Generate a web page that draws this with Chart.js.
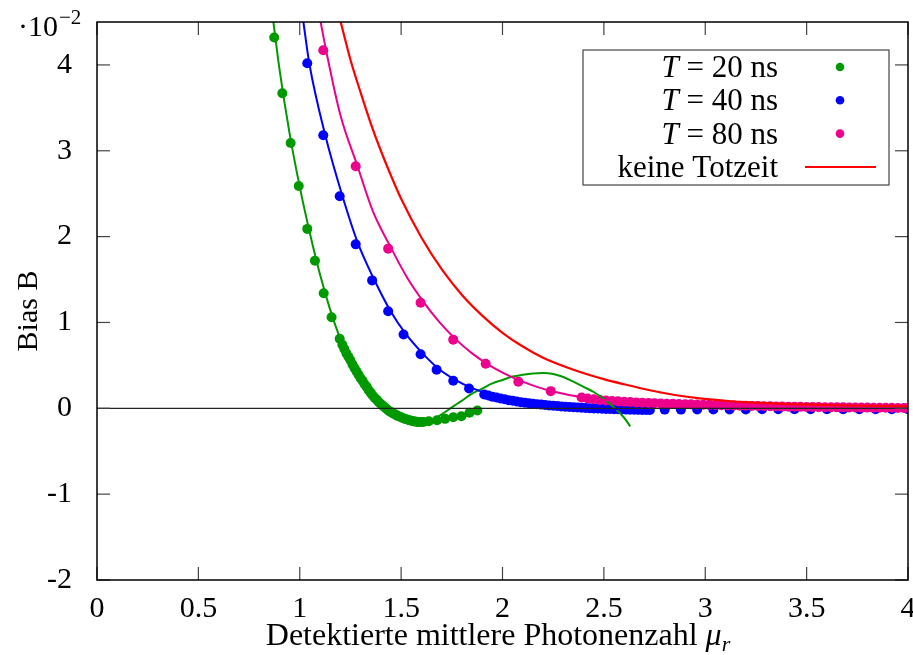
<!DOCTYPE html>
<html>
<head>
<meta charset="utf-8">
<script src="https://cdn.jsdelivr.net/npm/chart.js@4.4.1/dist/chart.umd.min.js"></script>
<style>
  html, body { margin: 0; padding: 0; background: #fff; }
  canvas { display: block; }
</style>
</head>
<body>
<canvas id="biasChart" width="913" height="655"></canvas>
<script>
// axis ticks
const xTicks = [0, 0.5, 1, 1.5, 2, 2.5, 3, 3.5, 4];
const yTicks = [-2, -1, 0, 1, 2, 3, 4];

const seriesLabels = ['T = 20 ns', 'T = 40 ns', 'T = 80 ns', 'keine Totzeit'];

// measured points, T = 20 ns
const t20X = [0.874, 0.914, 0.955, 0.995, 1.037, 1.075, 1.118, 1.157, 1.197,
  1.21, 1.22, 1.23, 1.24, 1.25, 1.26, 1.27, 1.28, 1.29, 1.30,
  1.31, 1.32, 1.33, 1.34, 1.35, 1.36, 1.37, 1.38, 1.39, 1.40,
  1.41, 1.42, 1.43, 1.44, 1.45, 1.46, 1.47, 1.48, 1.49, 1.50,
  1.51, 1.52, 1.53, 1.54, 1.55, 1.56, 1.57, 1.58, 1.59, 1.60, 1.61,
  1.637, 1.677, 1.717, 1.757, 1.797, 1.837, 1.876];
const t20Y = [4.32, 3.67, 3.09, 2.59, 2.09, 1.72, 1.34, 1.06, 0.81,
  0.74, 0.69, 0.64, 0.60, 0.56, 0.51, 0.47, 0.43, 0.39, 0.35,
  0.32, 0.28, 0.25, 0.21, 0.18, 0.15, 0.12, 0.10, 0.07, 0.05,
  0.03, 0.01, -0.01, -0.03, -0.045, -0.06, -0.07, -0.085, -0.095, -0.105,
  -0.115, -0.125, -0.13, -0.14, -0.145, -0.15, -0.155, -0.16, -0.16, -0.16, -0.16,
  -0.15, -0.14, -0.123, -0.104, -0.092, -0.052, -0.026];

// measured points, T = 40 ns
const t40X = [1.037, 1.116, 1.197, 1.276, 1.357, 1.436, 1.512, 1.596, 1.675, 1.757, 1.835,
  1.91, 1.93, 1.95, 1.97, 1.99, 2.01, 2.03, 2.05, 2.07, 2.09,
  2.11, 2.13, 2.15, 2.17, 2.19, 2.21, 2.23, 2.25, 2.27, 2.29,
  2.31, 2.33, 2.35, 2.37, 2.39, 2.41, 2.43, 2.45, 2.47, 2.49,
  2.51, 2.53, 2.55, 2.57, 2.59, 2.61, 2.63, 2.65, 2.67, 2.69, 2.71, 2.727,
  2.80, 2.88, 2.96, 3.04, 3.12, 3.20, 3.28, 3.36, 3.44, 3.52, 3.60, 3.68, 3.76, 3.84, 3.92, 4.0];
const t40Y = [4.02, 3.18, 2.47, 1.91, 1.49, 1.13, 0.86, 0.63, 0.45, 0.32, 0.23,
  0.16, 0.15, 0.135, 0.125, 0.115, 0.105, 0.095, 0.087, 0.079, 0.072,
  0.065, 0.059, 0.053, 0.048, 0.043, 0.038, 0.034, 0.030, 0.026, 0.022,
  0.019, 0.016, 0.012, 0.009, 0.006, 0.003, 0.001, -0.001, -0.003, -0.005,
  -0.007, -0.009, -0.011, -0.012, -0.014, -0.015, -0.016, -0.017, -0.018, -0.019, -0.02, -0.02,
  -0.015, -0.015, -0.014, -0.014, -0.013, -0.013, -0.012, -0.012, -0.012, -0.011, -0.011, -0.011, -0.01, -0.01, -0.01, -0.01];

// measured points, T = 80 ns
const t80X = [1.116, 1.276, 1.436, 1.596, 1.757, 1.917, 2.078, 2.238,
  2.39, 2.42, 2.45, 2.48, 2.51, 2.54, 2.57, 2.60, 2.63, 2.66,
  2.69, 2.72, 2.75, 2.78, 2.81, 2.84, 2.87, 2.90, 2.93, 2.96,
  2.99, 3.02, 3.05, 3.08, 3.11, 3.14, 3.17, 3.20, 3.23, 3.26,
  3.29, 3.32, 3.35, 3.38, 3.41, 3.44, 3.47, 3.50, 3.53, 3.56,
  3.59, 3.62, 3.65, 3.68, 3.71, 3.74, 3.77, 3.80, 3.83, 3.86,
  3.89, 3.92, 3.95, 3.98, 4.0];
const t80Y = [4.17, 2.82, 1.86, 1.23, 0.80, 0.52, 0.31, 0.20,
  0.125, 0.115, 0.105, 0.097, 0.091, 0.086, 0.081, 0.077, 0.073, 0.069,
  0.066, 0.063, 0.060, 0.057, 0.054, 0.052, 0.050, 0.048, 0.046, 0.044,
  0.042, 0.040, 0.038, 0.036, 0.034, 0.033, 0.031, 0.029, 0.028, 0.026,
  0.025, 0.023, 0.022, 0.020, 0.019, 0.018, 0.017, 0.016, 0.015, 0.014,
  0.013, 0.012, 0.011, 0.011, 0.010, 0.009, 0.008, 0.008, 0.007, 0.007,
  0.006, 0.006, 0.005, 0.005, 0.005];

// model curves
const fit20X = [0.870, 0.90, 0.95, 1.0, 1.05, 1.1, 1.15, 1.2, 1.25, 1.3, 1.35, 1.4, 1.45, 1.5, 1.55, 1.6,
  1.65, 1.7, 1.75, 1.8, 1.85, 1.9, 1.95, 2.0, 2.05, 2.1, 2.15, 2.2, 2.25, 2.3, 2.35, 2.4, 2.45, 2.5, 2.55, 2.6, 2.63];
const fit20Y = [4.5, 3.95, 3.2, 2.58, 2.04, 1.56, 1.15, 0.81, 0.54, 0.33, 0.17, 0.05, -0.045, -0.11, -0.155, -0.17,
  -0.14, -0.07, 0.01, 0.09, 0.17, 0.23, 0.29, 0.33, 0.37, 0.39, 0.405, 0.41, 0.40, 0.365, 0.31, 0.25, 0.19, 0.11, 0.01, -0.11, -0.21];

const fit40X = [1.018, 1.047, 1.126, 1.207, 1.286, 1.367, 1.446, 1.522, 1.606, 1.685, 1.767, 1.845, 1.92,
  2.0, 2.1, 2.2, 2.3, 2.4, 2.5, 2.6, 2.72];
const fit40Y = [4.5, 4.02, 3.18, 2.5, 1.93, 1.5, 1.14, 0.87, 0.64, 0.46, 0.33, 0.24, 0.175,
  0.125, 0.08, 0.048, 0.025, 0.008, -0.004, -0.012, -0.018];

const fit80X = [1.103, 1.13, 1.2, 1.285, 1.36, 1.452, 1.53, 1.61, 1.69, 1.771, 1.85, 1.93, 2.01, 2.09, 2.17, 2.25,
  2.4, 2.6, 2.8, 3.0, 3.3, 3.6, 4.0];
const fit80Y = [4.5, 4.17, 3.42, 2.82, 2.3, 1.86, 1.52, 1.24, 1.0, 0.80, 0.64, 0.51, 0.405, 0.32, 0.25, 0.195,
  0.125, 0.075, 0.052, 0.038, 0.023, 0.013, 0.006];

const noDeadX = [1.202, 1.25, 1.3, 1.35, 1.4, 1.45, 1.5, 1.6, 1.7, 1.8, 1.9, 2.0, 2.1, 2.2,
  2.35, 2.5, 2.6, 2.727, 2.85, 2.974, 3.1, 3.22, 3.35, 3.467, 3.7, 4.0];
const noDeadY = [4.5, 4.06, 3.68, 3.32, 3.0, 2.71, 2.44, 1.99, 1.62, 1.32, 1.08, 0.88, 0.72, 0.59,
  0.45, 0.34, 0.28, 0.21, 0.155, 0.115, 0.088, 0.068, 0.054, 0.045, 0.033, 0.024];

const COL = { g: '#009900', b: '#0000ff', m: '#ec008c', r: '#ff0000' };
const FONT = '"Liberation Serif", "Times New Roman", serif';

const pts = (xs, ys) => xs.map((x, i) => ({ x: x, y: ys[i] }));

function curve(label, xs, ys, color, width) {
  return { label: label, data: pts(xs, ys), showLine: true, borderColor: color, borderWidth: width,
    pointRadius: 0, cubicInterpolationMode: 'monotone', order: 1 };
}
function dots(label, xs, ys, color, order) {
  return { label: label, data: pts(xs, ys), showLine: false, backgroundColor: color, borderWidth: 0,
    pointRadius: 5, pointHoverRadius: 5, order: order };
}

const legendItems = [
  { text: seriesLabels[0], color: COL.g, kind: 'dot' },
  { text: seriesLabels[1], color: COL.b, kind: 'dot' },
  { text: seriesLabels[2], color: COL.m, kind: 'dot' },
  { text: seriesLabels[3], color: COL.r, kind: 'line' }
];

function seg(ctx, x1, y1, x2, y2) {
  ctx.beginPath(); ctx.moveTo(x1, y1); ctx.lineTo(x2, y2); ctx.stroke();
}

const decor = {
  id: 'decor',
  afterDatasetsDraw(chart) {
    const { ctx, chartArea: a, scales: { x, y } } = chart;
    ctx.save();
    // zero line
    ctx.strokeStyle = '#222';
    ctx.lineWidth = 1.2;
    const y0 = y.getPixelForValue(0);
    seg(ctx, a.left, y0, a.right, y0);
    // inner ticks on all four sides
    ctx.strokeStyle = '#444';
    ctx.lineWidth = 1.2;
    xTicks.forEach(v => {
      const px = x.getPixelForValue(v);
      seg(ctx, px, a.bottom, px, a.bottom - 13);
      seg(ctx, px, a.top, px, a.top + 13);
    });
    yTicks.forEach(v => {
      const py = y.getPixelForValue(v);
      seg(ctx, a.left, py, a.left + 13, py);
      seg(ctx, a.right, py, a.right - 13, py);
    });
    // frame
    ctx.strokeStyle = '#000';
    ctx.lineWidth = 1.5;
    ctx.strokeRect(a.left, a.top, a.right - a.left, a.bottom - a.top);

    // legend
    const lx = 583, ly = 50, lw = 306, lh = 135;
    ctx.fillStyle = '#fff';
    ctx.fillRect(lx, ly, lw, lh);
    ctx.strokeStyle = '#444';
    ctx.lineWidth = 1.2;
    ctx.strokeRect(lx, ly, lw, lh);
    ctx.textBaseline = 'alphabetic';
    ctx.textAlign = 'right';
    legendItems.forEach((it, i) => {
      const cy = 67 + i * 33.3;
      const base = cy + 10;
      ctx.fillStyle = '#000';
      if (it.text.startsWith('T ')) {
        const rest = it.text.slice(1);
        ctx.font = '31px ' + FONT;
        ctx.fillText(rest, 778, base);
        const w = ctx.measureText(rest).width;
        ctx.font = 'italic 31px ' + FONT;
        ctx.fillText('T', 778 - w, base);
      } else {
        ctx.font = '31px ' + FONT;
        ctx.fillText(it.text, 778, base);
      }
      if (it.kind === 'dot') {
        ctx.fillStyle = it.color;
        ctx.beginPath(); ctx.arc(840, cy, 4.3, 0, Math.PI * 2); ctx.fill();
      } else {
        ctx.strokeStyle = it.color;
        ctx.lineWidth = 2;
        seg(ctx, 805, cy, 876, cy);
      }
    });

    // exponent marker
    ctx.fillStyle = '#000';
    ctx.textAlign = 'left';
    ctx.font = '30px ' + FONT;
    ctx.fillText('\u00b710', 18, 36);
    ctx.font = '21px ' + FONT;
    ctx.fillText('\u22122', 59, 24);

    // x title with subscript
    const main = 'Detektierte mittlere Photonenzahl ';
    ctx.font = '32px ' + FONT;
    const w1 = ctx.measureText(main).width;
    ctx.font = 'italic 32px ' + FONT;
    const w2 = ctx.measureText('\u03bc').width;
    ctx.font = 'italic 22px ' + FONT;
    const w3 = ctx.measureText('r').width;
    const sx = 498 - (w1 + w2 + w3) / 2;
    ctx.font = '32px ' + FONT;
    ctx.fillText(main, sx, 645);
    ctx.font = 'italic 32px ' + FONT;
    ctx.fillText('\u03bc', sx + w1, 645);
    ctx.font = 'italic 22px ' + FONT;
    ctx.fillText('r', sx + w1 + w2, 651);

    // y title
    ctx.translate(37, 311);
    ctx.rotate(-Math.PI / 2);
    ctx.textAlign = 'center';
    ctx.font = '30px ' + FONT;
    ctx.fillText('Bias B', 0, 0);
    ctx.restore();
  }
};

new Chart(document.getElementById('biasChart'), {
  type: 'scatter',
  data: {
    datasets: [
      curve(seriesLabels[3], noDeadX, noDeadY, COL.r, 2.2),
      curve(seriesLabels[2], fit80X, fit80Y, COL.m, 2),
      curve(seriesLabels[1], fit40X, fit40Y, COL.b, 2),
      curve(seriesLabels[0], fit20X, fit20Y, COL.g, 2),
      dots(seriesLabels[2], t80X, t80Y, COL.m, 3),
      dots(seriesLabels[1], t40X, t40Y, COL.b, 4),
      dots(seriesLabels[0], t20X, t20Y, COL.g, 5)
    ]
  },
  options: {
    responsive: false,
    animation: false,
    devicePixelRatio: 1,
    layout: { padding: { top: 22, right: 5, left: 0, bottom: 0 } },
    plugins: { legend: { display: false }, tooltip: { enabled: false } },
    scales: {
      x: {
        type: 'linear', min: 0, max: 4,
        grid: { display: false },
        border: { display: false },
        afterBuildTicks: s => { s.ticks = xTicks.map(v => ({ value: v })); },
        afterFit: s => { s.height = 75; s.paddingLeft = 0; s.paddingRight = 0; },
        ticks: { color: '#000', padding: 3, maxRotation: 0, font: { family: FONT, size: 30 },
          callback: v => String(v) }
      },
      y: {
        type: 'linear', min: -2, max: 4.5,
        grid: { display: false },
        border: { display: false },
        afterBuildTicks: s => { s.ticks = yTicks.map(v => ({ value: v })); },
        afterFit: s => { s.width = 97; s.paddingTop = 0; s.paddingBottom = 0; },
        ticks: { color: '#000', padding: 17, font: { family: FONT, size: 30 },
          callback: v => String(v) }
      }
    }
  },
  plugins: [decor]
});
</script>
</body>
</html>
